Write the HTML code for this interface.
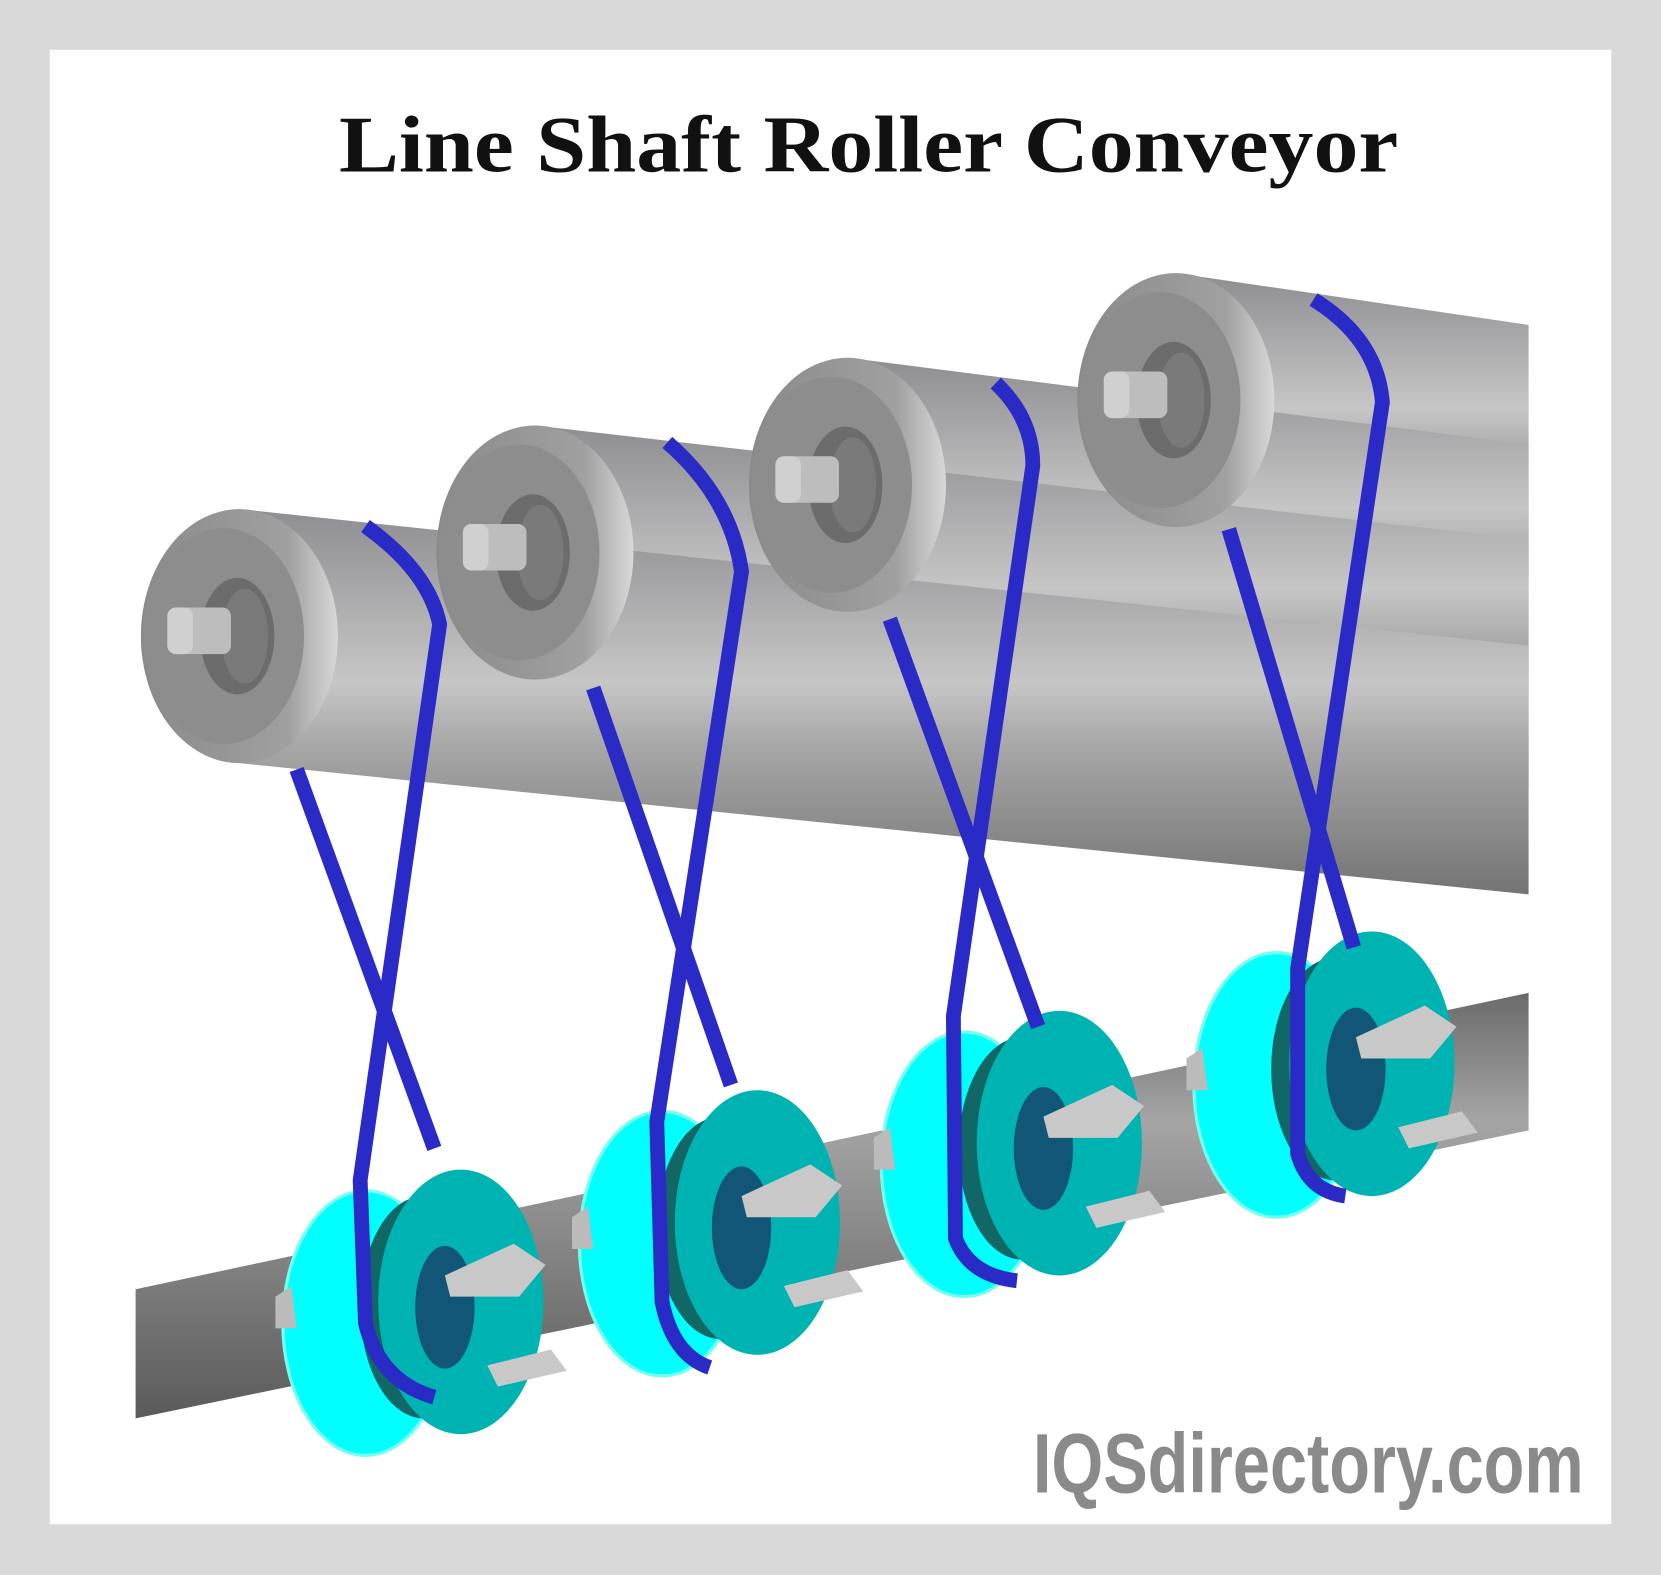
<!DOCTYPE html>
<html><head><meta charset="utf-8"><style>html,body{margin:0;padding:0;background:#d9d9d9}svg{display:block}</style></head>
<body>
<svg width="1661" height="1575" viewBox="0 0 1568 1488" preserveAspectRatio="none" xmlns="http://www.w3.org/2000/svg">
<defs>
<linearGradient id="body" x1="0" y1="0" x2="0" y2="1">
<stop offset="0" stop-color="#8e8e92"/><stop offset="0.45" stop-color="#c6c6c6"/><stop offset="0.6" stop-color="#a9a9a9"/><stop offset="1" stop-color="#747474"/></linearGradient>
<linearGradient id="cap" x1="0" y1="0" x2="1" y2="0">
<stop offset="0" stop-color="#8a8a8a"/><stop offset="0.75" stop-color="#a0a0a0"/><stop offset="1" stop-color="#d8d8d8"/></linearGradient>
<linearGradient id="shaft" x1="0" y1="0" x2="0" y2="1">
<stop offset="0" stop-color="#6a6a6a"/><stop offset="0.3" stop-color="#a5a5a5"/><stop offset="1" stop-color="#5a5a5a"/></linearGradient>
<g id="capg">
<ellipse cx="0" cy="0" rx="93" ry="120" fill="url(#cap)"/>
<ellipse cx="-15" cy="0" rx="76" ry="102" fill="#8d8d8d"/>
<ellipse cx="-2" cy="0" rx="35" ry="55" fill="#6c6c6c"/>
<ellipse cx="5" cy="0" rx="22" ry="45" fill="#7a7a7a"/>
<rect x="-68" y="-27" width="60" height="44" rx="8" fill="#bdbdbd"/>
<rect x="-68" y="-27" width="24" height="44" rx="8" fill="#d0d0d0"/>
</g>
<g id="pul">
<ellipse cx="-55" cy="15" rx="78" ry="125" fill="#0ff"/>
<ellipse cx="-55" cy="15" rx="78" ry="125" fill="none" stroke="#7fe" stroke-width="3"/>
<ellipse cx="0" cy="0" rx="60" ry="105" fill="#166"/>
<ellipse cx="35" cy="-5" rx="78" ry="125" fill="#00b3b3"/>
<ellipse cx="20" cy="0" rx="28" ry="58" fill="#157"/>
<path d="M20 -30 L85 -60 L115 -40 L90 -10 L25 -10 Z" fill="#c8c8c8"/>
<path d="M60 55 L120 40 L135 60 L70 75 Z" fill="#c8c8c8"/>
<path d="M-140 -10 L-125 -20 L-120 20 L-140 20 Z" fill="#bbb"/>
</g>
</defs>
<rect width="1568" height="1488" fill="#d9d9d9"/>
<rect x="47" y="47" width="1474" height="1393" fill="#fff"/>
<text x="320" y="162" font-family="Liberation Serif, serif" font-weight="bold" font-size="76" fill="#111" textLength="1000" lengthAdjust="spacingAndGlyphs">Line Shaft Roller Conveyor</text>

<!-- bodies back to front -->
<polygon points="1110,258 1443,307 1443,543 1110,498" fill="url(#body)"/>
<polygon points="800,338 1443,420 1443,655 800,580" fill="url(#body)"/>
<polygon points="505,402 1443,510 1443,745 505,642" fill="url(#body)"/>
<polygon points="226,481 1443,610 1443,845 226,721" fill="url(#body)"/>
<!-- caps -->
<use href="#capg" x="226" y="601"/>
<use href="#capg" x="505" y="522"/>
<use href="#capg" x="800" y="458"/>
<use href="#capg" x="1110" y="378"/>

<!-- shaft -->
<polygon points="128,1218 1443,938 1443,1068 128,1340" fill="url(#shaft)"/>

<use href="#pul" x="1260" y="1010"/>
<use href="#pul" x="965" y="1085"/>
<use href="#pul" x="680" y="1160"/>
<use href="#pul" x="400" y="1235"/>

<g fill="none" stroke="#2a2ac6" stroke-width="14" stroke-linejoin="round" stroke-linecap="butt">
<path d="M280 727 L410 1085"/>
<path d="M345 497 Q405 540 415 590 L340 1115 L345 1250 Q358 1305 410 1320"/>
<path d="M560 650 L690 1025"/>
<path d="M630 418 Q690 470 700 540 L620 1060 L625 1230 Q635 1280 670 1292"/>
<path d="M840 585 L980 970"/>
<path d="M940 362 Q975 395 975 440 L900 960 L902 1170 Q915 1205 960 1210"/>
<path d="M1160 500 L1278 895"/>
<path d="M1240 283 Q1300 320 1305 380 L1225 915 L1225 1090 Q1235 1125 1270 1130"/>
</g>

<text x="975" y="1410" font-family="Liberation Sans Narrow, Liberation Sans, sans-serif" font-weight="bold" font-size="80" fill="#8a8a8a" textLength="520" lengthAdjust="spacingAndGlyphs">IQSdirectory.com</text>
</svg>
</body></html>
